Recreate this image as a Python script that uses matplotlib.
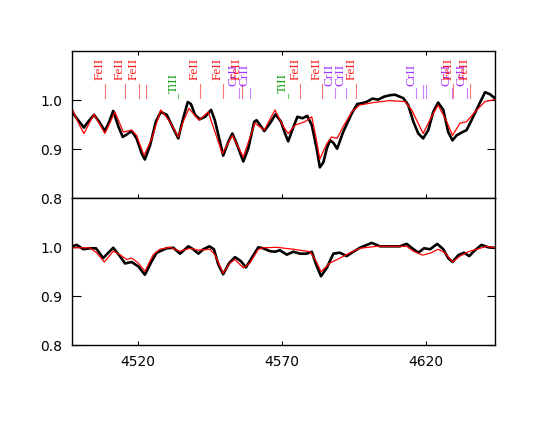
import matplotlib
matplotlib.use("Agg")
import matplotlib.pyplot as plt

# ---------------- data ----------------
top_obs_wave = [4497.0, 4498.6, 4501.1, 4502.6, 4504.6, 4506.4, 4508.4, 4509.9, 4511.3, 4513.1,
                4514.6, 4516.0, 4517.7, 4519.4, 4521.2, 4522.3, 4524.1, 4526.1, 4527.8, 4529.9,
                4532.2, 4533.9, 4535.6, 4537.2, 4538.3, 4539.7, 4541.4, 4543.2, 4545.3, 4546.6,
                4548.4, 4549.5, 4551.3, 4552.7, 4554.2, 4556.5, 4558.2, 4560.3, 4561.1, 4563.8,
                4565.8, 4567.7, 4569.6, 4571.0, 4572.1, 4573.7, 4575.3, 4577.1, 4578.7, 4580.3,
                4582.0, 4583.1, 4584.3, 4585.5, 4586.6, 4587.8, 4589.1, 4591.2, 4594.2, 4596.1,
                4598.0, 4599.6, 4601.4, 4603.4, 4605.4, 4607.5, 4609.2, 4612.1, 4613.8, 4615.6,
                4617.3, 4619.0, 4620.8, 4622.5, 4624.2, 4626.0, 4627.7, 4629.2, 4630.6, 4632.4,
                4634.1, 4635.8, 4638.1, 4640.5, 4642.2, 4643.9]
top_obs_flux = [0.976, 0.963, 0.944, 0.956, 0.970, 0.956, 0.937, 0.956, 0.978, 0.946,
                0.925, 0.930, 0.937, 0.922, 0.891, 0.879, 0.908, 0.956, 0.976, 0.970,
                0.942, 0.922, 0.963, 0.996, 0.992, 0.970, 0.961, 0.966, 0.980, 0.959,
                0.915, 0.887, 0.915, 0.932, 0.911, 0.875, 0.901, 0.956, 0.959, 0.937,
                0.953, 0.971, 0.956, 0.932, 0.916, 0.942, 0.966, 0.963, 0.968, 0.949,
                0.901, 0.863, 0.873, 0.901, 0.918, 0.913, 0.901, 0.935, 0.973, 0.992,
                0.994, 0.997, 1.003, 1.001, 1.007, 1.010, 1.011, 1.004, 0.990, 0.956,
                0.932, 0.922, 0.939, 0.976, 0.995, 0.980, 0.935, 0.918, 0.928, 0.934,
                0.939, 0.959, 0.987, 1.016, 1.012, 1.004]

top_mod_wave = [4497.0, 4499.2, 4501.1, 4504.6, 4508.4, 4511.9, 4514.8, 4517.7, 4519.4, 4522.0,
                4524.7, 4527.8, 4531.0, 4533.9, 4535.6, 4537.6, 4541.1, 4544.3, 4549.2, 4552.7,
                4556.5, 4560.5, 4563.8, 4567.5, 4570.4, 4572.1, 4574.5, 4577.9, 4580.3, 4581.8,
                4583.1, 4585.5, 4587.2, 4589.1, 4591.2, 4594.2, 4597.0, 4601.7, 4607.5, 4612.7,
                4615.0, 4619.0, 4621.9, 4624.2, 4627.2, 4629.2, 4631.8, 4634.1, 4637.0, 4640.5,
                4643.9]
top_mod_flux = [0.983, 0.953, 0.932, 0.971, 0.932, 0.976, 0.935, 0.939, 0.928, 0.887,
                0.922, 0.980, 0.956, 0.925, 0.956, 0.983, 0.959, 0.976, 0.891, 0.928,
                0.884, 0.953, 0.939, 0.980, 0.946, 0.932, 0.949, 0.956, 0.966, 0.922,
                0.880, 0.911, 0.925, 0.922, 0.946, 0.976, 0.990, 0.995, 0.999, 0.997,
                0.980, 0.932, 0.966, 0.990, 0.956, 0.928, 0.953, 0.956, 0.976, 0.997,
                1.001]

bot_obs_wave = [4497.0, 4498.6, 4500.9, 4503.2, 4505.3, 4507.8, 4509.6, 4511.3, 4513.6, 4515.4,
                4517.7, 4520.0, 4522.3, 4524.7, 4526.4, 4529.9, 4532.2, 4534.5, 4537.4, 4539.1,
                4540.9, 4542.6, 4544.7, 4546.3, 4547.8, 4549.5, 4551.6, 4553.6, 4555.6, 4557.4,
                4559.4, 4561.7, 4563.4, 4565.8, 4567.5, 4569.2, 4571.6, 4573.9, 4576.2, 4578.5,
                4580.3, 4581.8, 4583.5, 4585.5, 4587.8, 4590.1, 4592.4, 4594.2, 4597.0, 4601.1,
                4604.0, 4607.5, 4610.9, 4613.3, 4615.0, 4617.3, 4619.3, 4621.4, 4623.9, 4626.0,
                4627.7, 4629.2, 4631.2, 4633.2, 4635.0, 4637.0, 4639.3, 4641.6, 4643.6]
bot_obs_flux = [1.002, 1.005, 0.996, 0.998, 0.998, 0.978, 0.989, 0.999, 0.982, 0.967,
                0.970, 0.961, 0.944, 0.972, 0.989, 0.998, 0.999, 0.987, 1.002, 0.996,
                0.987, 0.996, 1.002, 0.996, 0.965, 0.945, 0.968, 0.980, 0.972, 0.959,
                0.978, 1.000, 0.998, 0.992, 0.991, 0.994, 0.985, 0.991, 0.987, 0.987,
                0.991, 0.965, 0.941, 0.958, 0.987, 0.989, 0.982, 0.989, 0.999, 1.009,
                1.002, 1.002, 1.002, 1.007, 0.999, 0.989, 0.998, 0.996, 1.007, 0.996,
                0.978, 0.970, 0.984, 0.989, 0.982, 0.994, 1.005, 1.000, 0.999]

bot_mod_wave = [4497.0, 4503.2, 4505.5, 4508.2, 4511.3, 4513.6, 4516.0, 4517.7, 4520.0, 4522.3,
                4525.2, 4527.5, 4531.0, 4534.5, 4538.0, 4540.9, 4544.9, 4546.6, 4549.5, 4551.9,
                4553.6, 4556.5, 4558.8, 4561.7, 4563.4, 4568.1, 4573.9, 4579.7, 4581.8, 4583.5,
                4586.6, 4590.1, 4593.6, 4597.0, 4602.8, 4613.3, 4615.6, 4618.8, 4621.9, 4624.2,
                4626.6, 4629.2, 4631.8, 4634.7, 4637.6, 4641.1, 4643.9]
bot_mod_flux = [0.999, 0.999, 0.989, 0.970, 0.992, 0.985, 0.975, 0.978, 0.968, 0.951,
                0.985, 0.996, 1.000, 0.992, 0.998, 0.994, 0.996, 0.985, 0.947, 0.968,
                0.975, 0.958, 0.968, 0.996, 0.999, 1.000, 0.996, 0.991, 0.972, 0.950,
                0.968, 0.978, 0.989, 0.998, 1.002, 1.002, 0.992, 0.984, 0.989, 0.996,
                0.989, 0.970, 0.982, 0.991, 0.996, 1.002, 0.999]

line_waves = [4508.28, 4515.34, 4520.22, 4522.63, 4533.97, 4541.52, 4549.47, 4555.02,
              4555.89, 4558.66, 4571.97, 4576.34, 4583.84, 4588.20, 4592.05, 4595.80,
              4616.63, 4618.80, 4620.00, 4629.00, 4629.50, 4634.07, 4635.33]
line_species = ["FeII", "FeII", "FeII", "FeII", "TiII", "FeII", "FeII", "CrII",
                "FeII", "CrII", "TiII", "FeII", "FeII", "CrII", "CrII", "FeII",
                "CrII", "CrII", "CrII", "CrII", "FeII", "CrII", "FeII"]
line_labeled = [True, True, True, False, True, True, True, True,
                True, True, True, True, True, True, True, True,
                True, False, False, True, True, True, True]

x_ticks = [4520, 4570, 4620]
y_ticks = [0.8, 0.9, 1.0]

# ---------------- style ----------------
species_color = {"FeII": "#ff1a1a", "TiII": "#14a014", "CrII": "#a633ff"}
label_bottom = {"FeII": 1.0405, "TiII": 1.0145, "CrII": 1.028}
line_top = {"FeII": 1.033, "TiII": 1.012, "CrII": 1.025}
line_bottom = 1.004

fig = plt.figure(figsize=(5.5, 4.25), dpi=100)
left, right = 72.3 / 550, 495 / 550
y_top, y_mid, y_bot = 1 - 51 / 425, 1 - 198.3 / 425, 1 - 345.3 / 425
ax1 = fig.add_axes([left, y_mid, right - left, y_top - y_mid])
ax2 = fig.add_axes([left, y_bot, right - left, y_mid - y_bot])

for ax in (ax1, ax2):
    ax.set_xlim(4497.07, 4643.97)
    ax.set_ylim(0.8, 1.1)
    ax.set_xticks(x_ticks)
    ax.set_yticks(y_ticks)
    ax.set_yticklabels(["%.1f" % v for v in y_ticks])
    for sp in ax.spines.values():
        sp.set_linewidth(1.0)
        sp.set_color("black")
    ax.tick_params(axis="y", direction="in", length=8.5 * 0.72, width=0.8,
                   left=True, right=True, labelsize=10, pad=7)
    ax.tick_params(axis="x", direction="in", length=4 * 0.72, width=0.8,
                   labelsize=10, pad=7)

ax1.tick_params(axis="x", top=True, bottom=True, labelbottom=False)
ax2.tick_params(axis="x", top=False, bottom=True)

ax1.plot(top_obs_wave, top_obs_flux, color="black", lw=1.9, solid_joinstyle="round")
ax1.plot(top_mod_wave, top_mod_flux, color="#ff0000", lw=0.9)
ax2.plot(bot_obs_wave, bot_obs_flux, color="black", lw=1.9, solid_joinstyle="round")
ax2.plot(bot_mod_wave, bot_mod_flux, color="#ff0000", lw=0.9)

for w, s, lab in zip(line_waves, line_species, line_labeled):
    c = species_color[s]
    top = line_top[s] if lab else 1.031
    ax1.plot([w, w], [line_bottom, top], color=c, lw=0.8, alpha=0.6)
    if lab:
        ax1.text(w + 0.3, label_bottom[s], s, rotation=90, ha="right", va="bottom",
                 color=c, fontsize=9.5, family="Liberation Serif")

fig.savefig("out.png", dpi=100, facecolor="white")
